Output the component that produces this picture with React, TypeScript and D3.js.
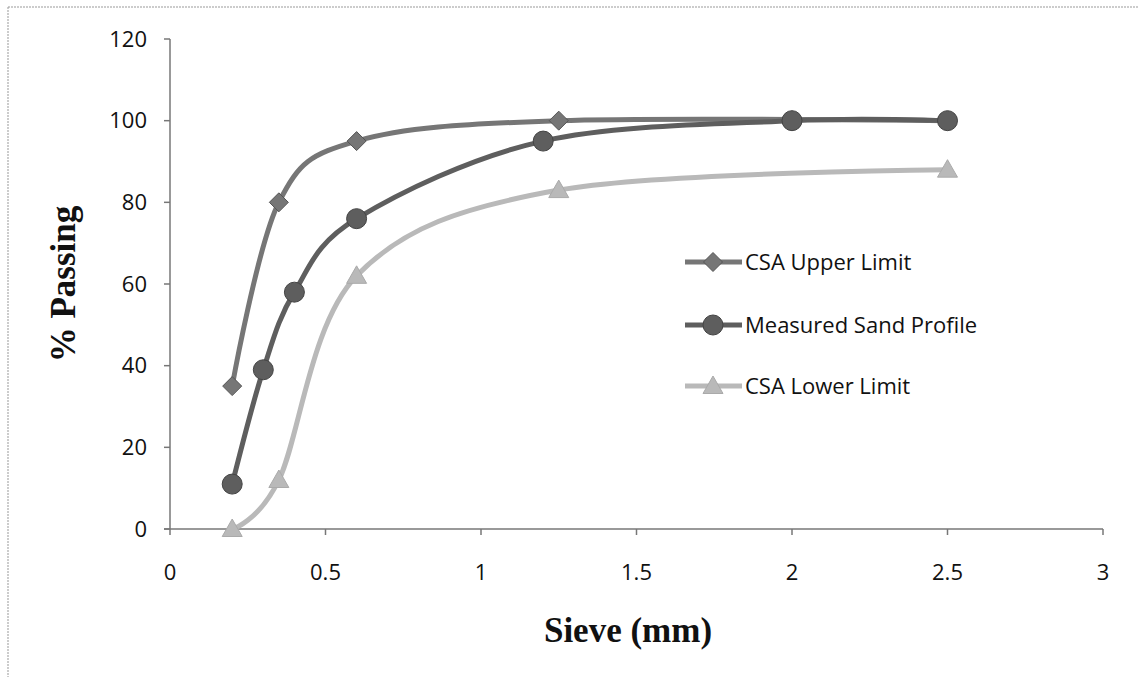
import React from "react";
import * as d3 from "d3";

const xTicks = [0, 0.5, 1, 1.5, 2, 2.5, 3];
const yTicks = [0, 20, 40, 60, 80, 100, 120];

const upperX = [0.2, 0.35, 0.6, 1.25, 2.5];
const upperY = [35, 80, 95, 100, 100];
const measuredX = [0.2, 0.3, 0.4, 0.6, 1.2, 2, 2.5];
const measuredY = [11, 39, 58, 76, 95, 100, 100];
const lowerX = [0.2, 0.35, 0.6, 1.25, 2.5];
const lowerY = [0, 12, 62, 83, 88];

const seriesNames = ["CSA Upper Limit", "Measured Sand Profile", "CSA Lower Limit"];

const W = 1139, H = 677;
const M = { left: 170, right: 1103, top: 39, bottom: 529 };

export default function App() {
  const x = d3.scaleLinear().domain([0, 3]).range([M.left, M.right]);
  const y = d3.scaleLinear().domain([0, 120]).range([M.bottom, M.top]);
  const line = d3
    .line<[number, number]>()
    .x((d) => x(d[0]))
    .y((d) => y(d[1]))
    .curve(d3.curveCatmullRom.alpha(0));

  const series = [
    { name: seriesNames[0], xs: upperX, ys: upperY, color: "#767676", shape: "diamond" },
    { name: seriesNames[1], xs: measuredX, ys: measuredY, color: "#5e5e5e", shape: "circle" },
    { name: seriesNames[2], xs: lowerX, ys: lowerY, color: "#b9b9b9", shape: "triangle" },
  ];

  const marker = (shape: string, cx: number, cy: number, fill: string, key: any) => {
    if (shape === "diamond") {
      const s = 9.5;
      return <path key={key} d={`M${cx},${cy - s}L${cx + s},${cy}L${cx},${cy + s}L${cx - s},${cy}Z`} fill={fill} stroke="#555" strokeWidth={1} />;
    }
    if (shape === "circle") {
      return <circle key={key} cx={cx} cy={cy} r={10} fill={fill} stroke="#444" strokeWidth={1} />;
    }
    const s = 10;
    return <path key={key} d={`M${cx},${cy - s}L${cx + s},${cy + s * 0.75}L${cx - s},${cy + s * 0.75}Z`} fill={fill} stroke="#aaa" strokeWidth={1} />;
  };

  const tickFont = "'Open Sans', 'Noto Sans', sans-serif";
  const legendY = [262, 325, 386];

  return (
    <svg width={W} height={H} style={{ position: "absolute", left: 0, top: 0 }}>
      <rect x={0} y={0} width={W} height={H} fill="#fff" />
      <line x1={8} y1={7} x2={W} y2={7} stroke="#999" strokeWidth={1} strokeDasharray="2,1" />
      <line x1={8} y1={7} x2={8} y2={H} stroke="#999" strokeWidth={1} strokeDasharray="2,1" />
      <line x1={M.left} y1={M.top} x2={M.left} y2={M.bottom} stroke="#777" strokeWidth={1.5} />
      <line x1={M.left - 6} y1={M.bottom} x2={M.right} y2={M.bottom} stroke="#777" strokeWidth={1.5} />
      {yTicks.map((t) => (
        <g key={"y" + t}>
          <line x1={M.left - 6} x2={M.left} y1={y(t)} y2={y(t)} stroke="#777" strokeWidth={1.5} />
          <text x={M.left - 23} y={y(t)} dy="0.35em" textAnchor="end" fontSize={22} fontFamily={tickFont} fill="#111">
            {t}
          </text>
        </g>
      ))}
      {xTicks.map((t) => (
        <g key={"x" + t}>
          <line x1={x(t)} x2={x(t)} y1={M.bottom} y2={M.bottom + 6} stroke="#777" strokeWidth={1.5} />
          <text x={x(t)} y={572} dy="0.35em" textAnchor="middle" fontSize={22} fontFamily={tickFont} fill="#111">
            {t}
          </text>
        </g>
      ))}
      {series.map((s, i) => (
        <path
          key={"l" + i}
          d={line(s.xs.map((v, j) => [v, s.ys[j]] as [number, number])) || ""}
          fill="none"
          stroke={s.color}
          strokeWidth={5}
        />
      ))}
      {series.map((s, i) => (
        <g key={"m" + i}>{s.xs.map((v, j) => marker(s.shape, x(v), y(s.ys[j]), s.color, j))}</g>
      ))}
      {series.map((s, i) => (
        <g key={"lg" + i}>
          <line x1={685} x2={742} y1={legendY[i]} y2={legendY[i]} stroke={s.color} strokeWidth={5} />
          {marker(s.shape, 713, legendY[i], s.color, "lm")}
          <text x={745} y={legendY[i]} dy="0.35em" fontSize={22} fontFamily={tickFont} fill="#111">
            {s.name}
          </text>
        </g>
      ))}
      <text
        x={628}
        y={642}
        textAnchor="middle"
        fontSize={35}
        fontWeight="bold"
        fontFamily="'Liberation Serif', 'Times New Roman', serif"
        fill="#111"
      >
        Sieve (mm)
      </text>
      <text
        transform={`translate(75,284) rotate(-90)`}
        textAnchor="middle"
        fontSize={35}
        fontWeight="bold"
        fontFamily="'Liberation Serif', 'Times New Roman', serif"
        fill="#111"
      >
        % Passing
      </text>
    </svg>
  );
}
